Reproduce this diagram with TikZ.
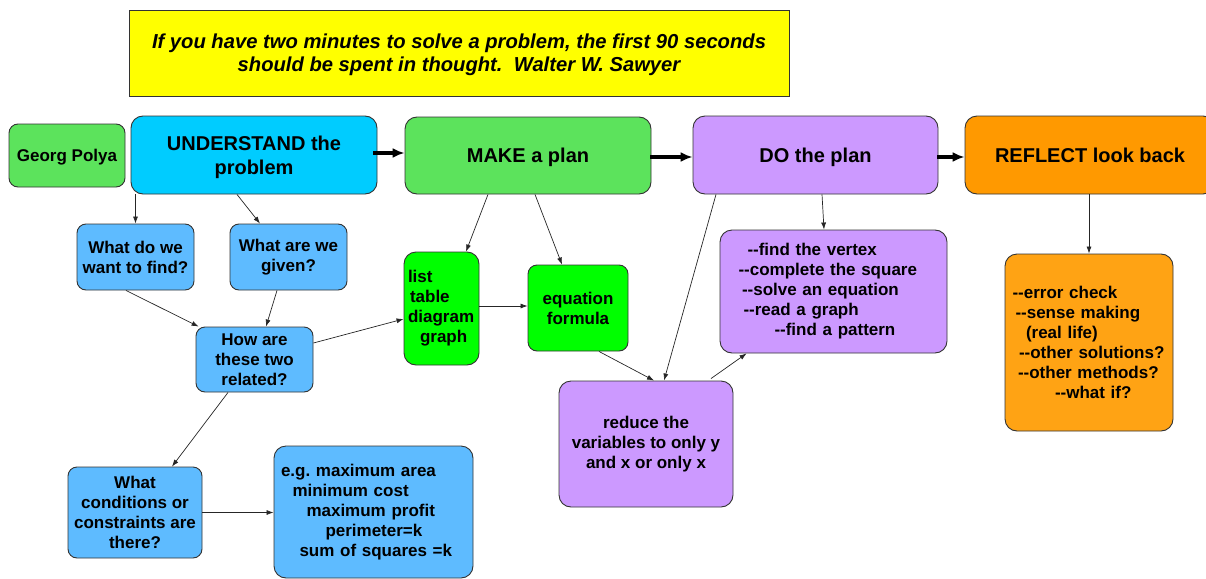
\documentclass[tikz,border=0pt]{standalone}
\usepackage{fontspec}
\setmainfont{Liberation Sans}
\usetikzlibrary{arrows.meta}

\definecolor{polyagreen}{HTML}{5CE35C}
\definecolor{understandblue}{HTML}{00CCFF}
\definecolor{askblue}{HTML}{5EBBFF}
\definecolor{toolgreen}{HTML}{00FF00}
\definecolor{planpurple}{HTML}{CC99FF}
\definecolor{reflectorange}{HTML}{FF9900}
\definecolor{checkorange}{HTML}{FFA314}
\definecolor{quoteyellow}{HTML}{FFFF00}

\newcommand{\dd}{-\kern0pt-}

\begin{document}
\begin{tikzpicture}[x=1pt,y=-1pt,>={Latex[length=7pt,width=5pt]}]
	\tikzstyle{stage}=[draw=black!80,line width=0.9pt,rounded corners=12pt,inner sep=0pt,text depth=0pt,align=center,font=\bfseries\fontsize{20}{24}\selectfont]
	\tikzstyle{query}=[draw=black!80,line width=0.9pt,rounded corners=9pt,inner sep=0pt,align=center,font=\bfseries\fontsize{17}{20}\selectfont]
	\tikzstyle{note}=[query,align=left,rounded corners=12pt]
	\tikzstyle{link}=[->,line width=0.7pt,black!85]
	\tikzstyle{flow}=[-{Latex[length=12pt,width=10pt]},line width=3.8pt]
	
	\useasboundingbox (0,0) rectangle (1206,578);
	
	% quote
	\node[draw=black!80,line width=0.9pt,fill=quoteyellow,minimum width=660,minimum height=86,align=center,text depth=0pt,
		font=\bfseries\itshape\fontsize{20.2}{23}\selectfont](quote) at (459,53)
		{If you have two minutes to solve a problem, the first 90 seconds\\should be spent in thought.\ \ Walter W. Sawyer};
	
	% the four stages
	\node[stage,fill=polyagreen,minimum width=116,minimum height=63,rounded corners=9pt,font=\bfseries\fontsize{17}{20}\selectfont](polya) at (67,155.5){Georg Polya};
	\node[stage,fill=understandblue,minimum width=246,minimum height=78](understand) at (254,155){UNDERSTAND the\\problem};
	\node[stage,fill=polyagreen,minimum width=246,minimum height=77](make) at (528,155.5){MAKE a plan};
	\node[stage,fill=planpurple,minimum width=245,minimum height=78](do) at (815.5,155){DO the plan};
	\node[stage,fill=reflectorange,minimum width=250,minimum height=78](reflect) at (1090,155){REFLECT look back};
	
	\draw[flow] ([xshift=-4]understand.east |- 0,153) -- (make.west |- 0,153);
	\draw[flow] ([xshift=-1]make.east |- 0,157) -- (do.west |- 0,157);
	\draw[flow] ([xshift=-1]do.east |- 0,157) -- (reflect.west |- 0,157);
	
	% understand
	\node[query,fill=askblue,minimum width=117,minimum height=66](want) at (135.5,257){What do we\\want to find?};
	\node[query,fill=askblue,minimum width=117,minimum height=66](given) at (288.5,257){What are we\\given?};
	\node[query,fill=askblue,minimum width=117,minimum height=65](related) at (254.5,359.5){How are\\these two\\related?};
	\node[query,fill=askblue,minimum width=134,minimum height=91](conditions) at (135,512.5){What\\conditions or\\constraints are\\there?};
	\node[note,fill=askblue,text width=199,minimum height=132](example) at (373.5,512){%
		\hspace*{7pt}e.g.\ maximum area\\
		\hspace*{18.5pt}minimum cost\\
		\hspace*{32.5pt}maximum profit\\
		\hspace*{51.5pt}perimeter=k\\
		\hspace*{25.5pt}sum of squares =k};
	
	\draw[link] (want.north |- understand.south) -- (want.north);
	\draw[link] ([xshift=-17]understand.south) -- ([xshift=-28.5]given.north);
	\draw[link] ([xshift=-9.5]want.south) -- ([xshift=3]related.north west);
	\draw[link] ([xshift=-11.5]given.south) -- ([xshift=11.5]related.north);
	\draw[link] ([xshift=-26.5]related.south) -- ([xshift=37]conditions.north);
	\draw[link] (conditions.east) -- (conditions.east -| example.west);
	
	% make a plan
	\node[note,fill=toolgreen,text width=75,minimum height=113](tools) at (441.5,308.5){%
		\hspace*{4pt}list\\
		\hspace*{6pt}table\\
		\hspace*{4pt}diagram\\
		\hspace*{16pt}graph};
	\node[query,fill=toolgreen,minimum width=100,minimum height=86](equation) at (578,308){equation\\formula};
	
	\draw[link] ([yshift=16.5]related.east) -- ([yshift=-10.5]tools.west);
	\draw[link] ([xshift=-40]make.south) -- ([xshift=24.5]tools.north);
	\draw[link] ([xshift=7]make.south) -- ([xshift=-16]equation.north);
	\draw[link] (tools.east |- 0,306) -- (equation.west |- 0,306);
	
	% do the plan
	\node[note,fill=planpurple,minimum width=174,minimum height=126,align=center](reduce) at (646,444){reduce the\\variables to only y\\and x or only x};
	\node[note,fill=planpurple,text width=227,minimum height=123](steps) at (833.5,291.5){%
		\hspace*{27.5pt}\dd find the vertex\\
		\hspace*{18.5pt}\dd complete the square\\
		\hspace*{22pt}\dd solve an equation\\
		\hspace*{23.5pt}\dd read a graph\\
		\hspace*{54.5pt}\dd find a pattern};
	
	\draw[link] ([xshift=21]equation.south) -- ([xshift=8]reduce.north);
	\draw[link] ([xshift=-99.5]do.south) -- ([xshift=18]reduce.north);
	\draw[link] ([xshift=65,yshift=2]reduce.north) -- ([xshift=27]steps.south west);
	\draw[link] ([xshift=6.5]do.south) -- ([xshift=-9.5]steps.north);
	
	% reflect
	\node[note,fill=checkorange,text width=168,minimum height=177](checks) at (1089,342.5){%
		\hspace*{7.5pt}\dd error check\\
		\hspace*{10.5pt}\dd sense making\\
		\hspace*{21pt}(real life)\\
		\hspace*{14pt}\dd other solutions?\\
		\hspace*{13pt}\dd other methods?\\
		\hspace*{50pt}\dd what if?};
	
	\draw[link] (checks.north |- reflect.south) -- (checks.north);
	
\end{tikzpicture}
\end{document}
